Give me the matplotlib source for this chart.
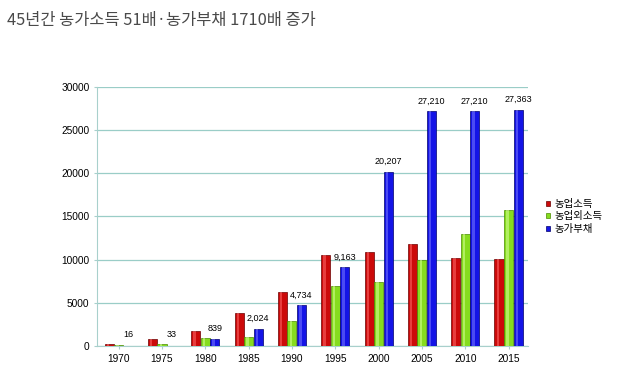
import numpy as np
import matplotlib.pyplot as plt

plt.rcParams['font.family'] = ['Noto Sans CJK KR', 'DejaVu Sans']

years = ["1970", "1975", "1980", "1985", "1990", "1995", "2000", "2005", "2010", "2015"]
farm_income = [280, 770, 1750, 3780, 6260, 10530, 10900, 11870, 10140, 10100]
nonfarm_income = [150, 250, 890, 1090, 2900, 6950, 7450, 9950, 13030, 15800]
farm_debt = [16, 33, 839, 2024, 4734, 9163, 20207, 27210, 27210, 27363]
series_names = ["농업소득", "농업외소득", "농가부채"]

fig = plt.figure(figsize=(6.18, 3.83), dpi=100)
fig.text(7 / 618, 1 - 21 / 383, "45년간 농가소득 51배·농가부채 1710배 증가",
         fontsize=11.8, color="#4a4a4a", va="center", ha="left")

ax = fig.add_axes([97 / 618, 37 / 383, 431 / 618, 259 / 383])

x = np.arange(len(years))
w = 0.22
colors = ["#cc0a0a", "#86dc1e", "#1414e6"]
highlights = ["#ff6a6a", "#d8ff9a", "#7a7aff"]
edges = ["#6a0000", "#4a8a00", "#00006a"]
for i, (vals, name) in enumerate(zip([farm_income, nonfarm_income, farm_debt], series_names)):
    pos = x + (i - 1) * w
    ax.bar(pos, vals, w * 0.95, color=colors[i], edgecolor=edges[i],
           linewidth=0.5, label=name, zorder=3)
    # cylinder highlight
    ax.bar(pos - w * 0.12, vals, w * 0.25, color=highlights[i], alpha=0.55,
           linewidth=0, zorder=4)

for xi, v in zip(x, farm_debt):
    ax.annotate(f"{v:,}", (xi + w, max(v, 150)), xytext=(0, 4), textcoords="offset points",
                ha="center", va="bottom", fontsize=6.5, family="Liberation Sans")

ax.set_xlim(-0.5, 9.45)
ax.set_ylim(0, 30000)
ax.set_yticks(range(0, 30001, 5000))
ax.set_xticks(x)
ax.set_xticklabels(years)
ax.tick_params(axis="both", labelsize=7.3, length=2, color="#a8d0cc")
for lab in ax.get_xticklabels() + ax.get_yticklabels():
    lab.set_family("Liberation Sans")
ax.grid(axis="y", color="#9acdc7", linewidth=0.9, zorder=0)
for s in ["top", "right"]:
    ax.spines[s].set_visible(False)
for s in ["left", "bottom"]:
    ax.spines[s].set_color("#a8d0cc")

ax.legend(loc="center left", bbox_to_anchor=(1.02, 0.5), frameon=False, fontsize=7.5,
          handlelength=0.35, handleheight=0.35, handletextpad=0.5, labelspacing=0.25)

plt.savefig("out.png", dpi=100)
